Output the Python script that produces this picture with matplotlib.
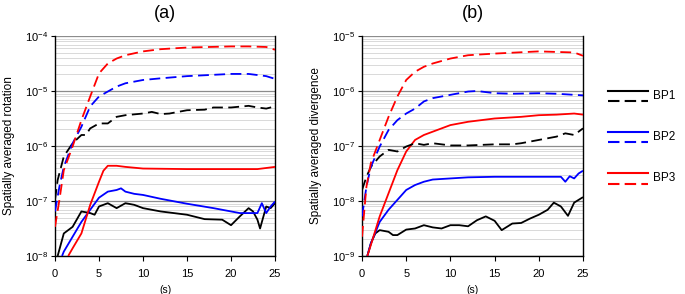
import matplotlib
matplotlib.use("Agg")
import matplotlib.pyplot as plt
import numpy as np
from matplotlib.ticker import LogLocator, FixedLocator, NullFormatter

plt.rcParams['font.family'] = ['Liberation Sans', 'DejaVu Sans']
plt.rcParams['mathtext.fontset'] = 'custom'
plt.rcParams['mathtext.rm'] = 'Liberation Sans'
plt.rcParams['mathtext.it'] = 'Liberation Sans'

# ---------------- data (log10 of the spatial averages) ----------------
# panel (a): rotation
t_a_bp1_dash = [0, 0.3, 1, 2, 3, 3.5, 4, 5, 6, 7, 8, 10, 11, 12, 13, 15, 17, 18, 20, 22, 23, 24, 25]
a_bp1_dash = [-6.98, -6.62, -6.19, -5.95, -5.80, -5.80, -5.68, -5.59, -5.59, -5.47, -5.44, -5.41,
              -5.38, -5.42, -5.41, -5.35, -5.34, -5.30, -5.30, -5.27, -5.30, -5.32, -5.28]
t_a_bp2_dash = [0, 0.5, 1, 2, 3, 4, 5, 6, 7, 8, 10, 12, 15, 20, 22, 24, 25]
a_bp2_dash = [-7.19, -6.74, -6.38, -5.95, -5.65, -5.28, -5.10, -5.01, -4.92, -4.86, -4.80, -4.77,
              -4.73, -4.69, -4.69, -4.73, -4.78]
t_a_bp3_dash = [0, 0.5, 1, 2, 3, 4, 5, 6, 7, 8, 10, 12, 15, 20, 22, 24, 25]
a_bp3_dash = [-7.47, -6.98, -6.44, -6.01, -5.53, -5.10, -4.68, -4.50, -4.41, -4.35, -4.28, -4.24,
              -4.21, -4.19, -4.19, -4.20, -4.25]
t_a_bp1 = [0.3, 1, 2, 3, 4, 4.5, 5, 6, 7, 8, 9, 10, 12, 15, 17, 19, 20, 21, 22, 22.5, 23, 23.3, 24, 24.5, 25]
a_bp1 = [-8.0, -7.59, -7.47, -7.19, -7.22, -7.25, -7.10, -7.04, -7.13, -7.04, -7.07, -7.13, -7.19,
         -7.25, -7.33, -7.34, -7.44, -7.28, -7.13, -7.19, -7.34, -7.50, -7.10, -7.13, -7.04]
t_a_bp2 = [0.8, 1, 2, 3, 4, 5, 6, 7, 7.5, 8, 9, 10, 12, 15, 18, 20, 21, 22, 23, 23.5, 24, 24.5, 25]
a_bp2 = [-8.0, -7.92, -7.65, -7.38, -7.16, -6.94, -6.83, -6.80, -6.77, -6.83, -6.87, -6.89, -6.96,
         -7.05, -7.13, -7.19, -7.22, -7.22, -7.22, -7.04, -7.22, -7.10, -7.01]
t_a_bp3 = [1.5, 2, 3, 4, 5, 5.5, 6, 7, 8, 10, 15, 20, 23, 24, 25]
a_bp3 = [-8.0, -7.86, -7.59, -7.07, -6.65, -6.45, -6.36, -6.36, -6.38, -6.41, -6.42, -6.42, -6.42,
         -6.40, -6.38]

# panel (b): divergence
t_b_bp1_dash = [0, 0.5, 1, 2, 3, 4, 5, 6, 7, 8, 10, 12, 15, 17, 18, 20, 22, 23, 24, 25]
b_bp1_dash = [-7.80, -7.56, -7.38, -7.19, -7.07, -7.10, -7.01, -6.95, -6.98, -6.95, -6.99, -6.99,
              -6.97, -6.97, -6.95, -6.89, -6.83, -6.77, -6.80, -6.68]
t_b_bp2_dash = [0, 0.5, 1, 2, 3, 4, 5, 6, 7, 8, 10, 12, 13, 15, 17, 20, 22, 24, 25]
b_bp2_dash = [-8.28, -7.74, -7.38, -7.01, -6.71, -6.53, -6.41, -6.32, -6.19, -6.13, -6.07, -6.01,
              -6.00, -6.04, -6.05, -6.04, -6.05, -6.07, -6.08]
t_b_bp3_dash = [0, 0.3, 0.5, 1, 2, 3, 4, 5, 6, 7, 8, 10, 12, 15, 20, 22, 24, 25]
b_bp3_dash = [-8.65, -8.10, -7.74, -7.31, -6.89, -6.47, -6.10, -5.80, -5.65, -5.56, -5.50, -5.41,
              -5.35, -5.32, -5.28, -5.29, -5.30, -5.36]
t_b_bp1 = [0.6, 1, 1.5, 2, 3, 3.5, 4, 5, 6, 7, 8, 9, 10, 11, 12, 13, 14, 15, 15.8, 17, 18, 19, 20,
           21, 21.7, 22.5, 23.3, 24, 25]
b_bp1 = [-9.0, -8.77, -8.59, -8.53, -8.56, -8.62, -8.62, -8.52, -8.50, -8.44, -8.48, -8.50, -8.44,
         -8.44, -8.46, -8.35, -8.28, -8.36, -8.53, -8.41, -8.40, -8.32, -8.25, -8.16, -8.03, -8.10,
         -8.27, -8.03, -7.93]
t_b_bp2 = [0.6, 1, 2, 3, 4, 5, 6, 7, 8, 10, 12, 15, 20, 22, 22.5, 23, 23.5, 24, 24.5, 25]
b_bp2 = [-9.0, -8.77, -8.38, -8.16, -7.98, -7.80, -7.71, -7.65, -7.61, -7.59, -7.57, -7.56, -7.56,
         -7.56, -7.56, -7.65, -7.55, -7.59, -7.50, -7.45]
t_b_bp3 = [0.6, 1, 2, 3, 4, 5, 6, 7, 8, 10, 12, 15, 18, 20, 22, 24, 25]
b_bp3 = [-9.0, -8.80, -8.28, -7.86, -7.44, -7.10, -6.89, -6.80, -6.74, -6.62, -6.56, -6.50, -6.47,
         -6.44, -6.43, -6.41, -6.43]

series_names = ['BP1', 'BP2', 'BP3']
series_colors = ['black', 'blue', 'red']

panels = [
    {'title': '(a)', 'ylabel': 'Spatially averaged rotation', 'ylim': (-8, -4),
     'solid': [(t_a_bp1, a_bp1), (t_a_bp2, a_bp2), (t_a_bp3, a_bp3)],
     'dashed': [(t_a_bp1_dash, a_bp1_dash), (t_a_bp2_dash, a_bp2_dash), (t_a_bp3_dash, a_bp3_dash)]},
    {'title': '(b)', 'ylabel': 'Spatially averaged divergence', 'ylim': (-9, -5),
     'solid': [(t_b_bp1, b_bp1), (t_b_bp2, b_bp2), (t_b_bp3, b_bp3)],
     'dashed': [(t_b_bp1_dash, b_bp1_dash), (t_b_bp2_dash, b_bp2_dash), (t_b_bp3_dash, b_bp3_dash)]},
]

fig = plt.figure(figsize=(6.85, 2.94), dpi=100)
ax_rects = [[0.0803, 0.1293, 0.3212, 0.7483], [0.5285, 0.1293, 0.3226, 0.7483]]

for p, rect in zip(panels, ax_rects):
    ax = fig.add_axes(rect)
    ax.set_yscale('log')
    lo, hi = p['ylim']
    for (t, v), c in zip(p['solid'], series_colors):
        ax.plot(t, 10.0 ** np.array(v), color=c, lw=1.3, solid_capstyle='butt', zorder=3)
    for (t, v), c in zip(p['dashed'], series_colors):
        ax.plot(t, 10.0 ** np.array(v), color=c, lw=1.3, dashes=(6, 3), zorder=3)
    ax.set_xlim(0, 25)
    ax.set_ylim(10.0 ** lo, 10.0 ** hi)
    ax.set_xticks([0, 5, 10, 15, 20, 25])
    decades = list(range(lo, hi + 1))
    ax.yaxis.set_major_locator(FixedLocator([10.0 ** d for d in decades]))
    ax.set_yticklabels(['$10^{%d}$' % d for d in decades])
    ax.yaxis.set_minor_locator(LogLocator(base=10, subs=np.arange(2, 10), numticks=20))
    ax.yaxis.set_minor_formatter(NullFormatter())
    ax.grid(True, which='major', axis='y', color='#8c8c8c', lw=0.9)
    ax.grid(True, which='minor', axis='y', color='#d9d9d9', lw=0.7)
    ax.tick_params(axis='x', which='major', labelsize=8, length=3.5, width=0.8, pad=6)
    ax.tick_params(axis='y', which='major', labelsize=8, length=3, width=0.8, pad=2)
    ax.tick_params(axis='y', which='minor', length=0)
    ax.spines['top'].set_visible(False)
    for s in ['left', 'right', 'bottom']:
        ax.spines[s].set_linewidth(1.0)
    ax.set_xlabel('(s)', fontsize=7.5, labelpad=4)
    ax.set_ylabel(p['ylabel'], fontsize=8.5, labelpad=7)
    ax.set_title(p['title'], fontsize=13, pad=13)

# legend: solid over dashed for each series
lax = fig.add_axes([0.875, 0.35, 0.125, 0.36])
lax.set_xlim(0, 1)
lax.set_ylim(0, 1)
lax.axis('off')
for i, (name, c) in enumerate(zip(series_names, series_colors)):
    y = 0.90 - i * 0.39
    lax.plot([0.10, 0.57], [y + 0.05, y + 0.05], color=c, lw=1.5)
    lax.plot([0.10, 0.57], [y - 0.05, y - 0.05], color=c, lw=1.5, dashes=(5.5, 2.5))
    lax.text(0.63, y, name, fontsize=8.5, va='center', ha='left')

fig.savefig('out.png', dpi=100)
